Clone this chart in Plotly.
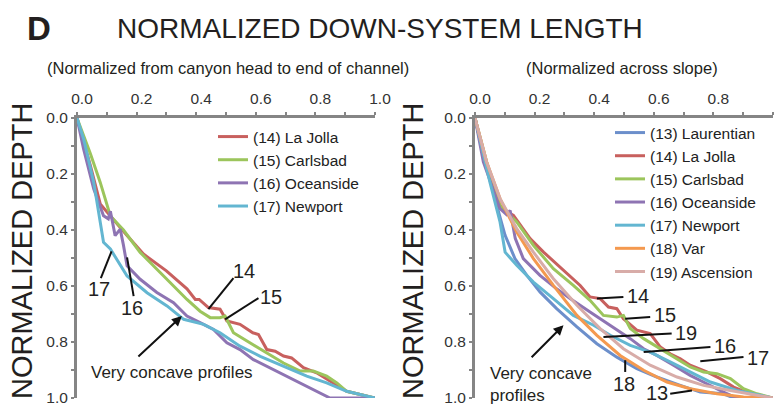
import plotly.graph_objects as go

# ---------------- data: left panel (normalized from canyon head to end of channel)
L_lajolla_x = [0, 0.045, 0.078, 0.112, 0.168, 0.223, 0.30, 0.369, 0.397, 0.41, 0.441, 0.48, 0.503, 0.547, 0.59, 0.609, 0.637, 0.665, 0.693, 0.72, 0.76, 0.804, 0.86, 0.905, 1.0]
L_lajolla_y = [0, 0.17, 0.307, 0.35, 0.42, 0.486, 0.546, 0.61, 0.648, 0.648, 0.677, 0.683, 0.725, 0.737, 0.767, 0.773, 0.827, 0.833, 0.85, 0.857, 0.892, 0.91, 0.946, 0.976, 1.0]

L_carlsbad_x = [0, 0.045, 0.078, 0.112, 0.156, 0.212, 0.279, 0.324, 0.369, 0.413, 0.447, 0.48, 0.497, 0.525, 0.581, 0.637, 0.693, 0.749, 0.793, 0.838, 0.872, 0.905, 1.0]
L_carlsbad_y = [0, 0.128, 0.23, 0.35, 0.40, 0.48, 0.552, 0.60, 0.648, 0.69, 0.713, 0.713, 0.707, 0.767, 0.803, 0.839, 0.875, 0.904, 0.904, 0.922, 0.946, 0.976, 1.0]

L_oceanside_x = [0, 0.022, 0.056, 0.089, 0.105, 0.112, 0.128, 0.145, 0.156, 0.168, 0.212, 0.268, 0.324, 0.369, 0.413, 0.458, 0.503, 0.547, 0.592, 0.637, 0.693, 0.749, 0.804, 0.849, 1.0]
L_oceanside_y = [0, 0.11, 0.253, 0.349, 0.36, 0.333, 0.42, 0.397, 0.455, 0.528, 0.576, 0.623, 0.66, 0.707, 0.731, 0.755, 0.803, 0.827, 0.863, 0.887, 0.916, 0.946, 0.976, 1.0, 1.0]

L_newport_x = [0, 0.022, 0.056, 0.089, 0.112, 0.168, 0.235, 0.302, 0.358, 0.425, 0.48, 0.547, 0.615, 0.693, 0.771, 0.838, 0.905, 1.0]
L_newport_y = [0, 0.074, 0.229, 0.444, 0.468, 0.564, 0.624, 0.671, 0.719, 0.737, 0.767, 0.815, 0.851, 0.887, 0.922, 0.946, 0.976, 1.0]

# ---------------- data: right panel (normalized across slope)
R_laurentian_x = [0, 0.039, 0.073, 0.101, 0.134, 0.174, 0.218, 0.274, 0.342, 0.409, 0.476, 0.543, 0.61, 0.689, 0.756, 0.834, 0.868, 1.0]
R_laurentian_y = [0, 0.169, 0.312, 0.419, 0.502, 0.562, 0.621, 0.681, 0.746, 0.806, 0.854, 0.895, 0.925, 0.955, 0.979, 0.985, 1.0, 1.0]

R_lajolla_x = [0, 0.028, 0.062, 0.073, 0.129, 0.185, 0.23, 0.297, 0.353, 0.386, 0.42, 0.448, 0.476, 0.498, 0.543, 0.588, 0.622, 0.655, 0.689, 0.722, 0.778, 0.823, 0.868, 0.924, 1.0]
R_lajolla_y = [0, 0.133, 0.252, 0.312, 0.348, 0.431, 0.479, 0.544, 0.598, 0.639, 0.645, 0.675, 0.681, 0.717, 0.758, 0.77, 0.818, 0.842, 0.86, 0.883, 0.907, 0.931, 0.961, 0.985, 1.0]

R_carlsbad_x = [0, 0.039, 0.084, 0.14, 0.196, 0.263, 0.33, 0.386, 0.431, 0.476, 0.498, 0.521, 0.566, 0.622, 0.678, 0.722, 0.767, 0.812, 0.857, 0.901, 0.946, 1.0]
R_carlsbad_y = [0, 0.157, 0.312, 0.371, 0.455, 0.538, 0.598, 0.651, 0.705, 0.711, 0.705, 0.752, 0.788, 0.824, 0.86, 0.889, 0.907, 0.913, 0.931, 0.967, 0.985, 1.0]

R_oceanside_x = [0, 0.028, 0.084, 0.106, 0.118, 0.135, 0.162, 0.218, 0.274, 0.319, 0.386, 0.454, 0.521, 0.566, 0.61, 0.666, 0.722, 0.778, 0.834, 0.879, 1.0]
R_oceanside_y = [0, 0.157, 0.324, 0.345, 0.33, 0.43, 0.502, 0.562, 0.61, 0.645, 0.693, 0.74, 0.788, 0.824, 0.848, 0.883, 0.919, 0.949, 0.979, 1.0, 1.0]

R_newport_x = [0, 0.05, 0.084, 0.101, 0.14, 0.196, 0.263, 0.33, 0.398, 0.454, 0.521, 0.588, 0.655, 0.722, 0.79, 0.879, 1.0]
R_newport_y = [0, 0.229, 0.371, 0.479, 0.526, 0.586, 0.645, 0.705, 0.74, 0.776, 0.812, 0.836, 0.871, 0.907, 0.943, 0.973, 1.0]

R_var_x = [0, 0.039, 0.084, 0.14, 0.196, 0.263, 0.342, 0.409, 0.487, 0.566, 0.644, 0.722, 0.812, 0.901, 1.0]
R_var_y = [0, 0.157, 0.288, 0.407, 0.502, 0.598, 0.705, 0.776, 0.848, 0.901, 0.943, 0.967, 0.985, 0.996, 1.0]

R_ascension_x = [0, 0.039, 0.084, 0.14, 0.196, 0.263, 0.342, 0.42, 0.498, 0.588, 0.678, 0.767, 0.857, 0.946, 1.0]
R_ascension_y = [0, 0.157, 0.288, 0.395, 0.479, 0.574, 0.669, 0.752, 0.824, 0.883, 0.925, 0.955, 0.973, 0.99, 1.0]

tick_vals = [0, 0.2, 0.4, 0.6, 0.8, 1.0]
tick_text = ["0.0", "0.2", "0.4", "0.6", "0.8", "1.0"]

# ---------------- styling
C = {
    "Laurentian": "#6c8fcb",
    "La Jolla": "#c8605e",
    "Carlsbad": "#9cc55c",
    "Oceanside": "#8e74b3",
    "Newport": "#63b6d1",
    "Var": "#f4994f",
    "Ascension": "#d8aca8",
}
FONT = "Liberation Sans, Arial, Helvetica, sans-serif"
AXIS_GRAY = "#858585"
W, H = 774, 418

fig = go.Figure()

left_series = [
    ("(14) La Jolla", "La Jolla", L_lajolla_x, L_lajolla_y),
    ("(15) Carlsbad", "Carlsbad", L_carlsbad_x, L_carlsbad_y),
    ("(16) Oceanside", "Oceanside", L_oceanside_x, L_oceanside_y),
    ("(17) Newport", "Newport", L_newport_x, L_newport_y),
]
right_series = [
    ("(13) Laurentian", "Laurentian", R_laurentian_x, R_laurentian_y),
    ("(14) La Jolla", "La Jolla", R_lajolla_x, R_lajolla_y),
    ("(15) Carlsbad", "Carlsbad", R_carlsbad_x, R_carlsbad_y),
    ("(16) Oceanside", "Oceanside", R_oceanside_x, R_oceanside_y),
    ("(17) Newport", "Newport", R_newport_x, R_newport_y),
    ("(18) Var", "Var", R_var_x, R_var_y),
    ("(19) Ascension", "Ascension", R_ascension_x, R_ascension_y),
]

for name, key, xs, ys in left_series:
    fig.add_trace(go.Scatter(x=xs, y=ys, mode="lines", name=name,
                             line=dict(color=C[key], width=3),
                             xaxis="x", yaxis="y", legend="legend"))
for name, key, xs, ys in right_series:
    fig.add_trace(go.Scatter(x=xs, y=ys, mode="lines", name=name,
                             line=dict(color=C[key], width=3),
                             xaxis="x2", yaxis="y2", legend="legend2"))


def px_x(p):
    return p / W


def px_y(p):
    return 1 - p / H


def xaxis_style(domain, anchor):
    return dict(domain=domain, anchor=anchor, side="top", range=[0, 1],
                tickvals=tick_vals, ticktext=tick_text,
                ticks="outside", ticklen=3, tickwidth=2, tickcolor=AXIS_GRAY,
                minor=dict(ticks="outside", dtick=0.1, ticklen=3, tickcolor=AXIS_GRAY, tickwidth=2),
                ticklabelshift=5, ticklabelstandoff=2,
                showline=True, linecolor=AXIS_GRAY, linewidth=3, automargin=False,
                showgrid=False, zeroline=False, fixedrange=True,
                tickfont=dict(family=FONT, size=15.5, color="#333333"))


def yaxis_style(domain, anchor):
    return dict(domain=domain, anchor=anchor, range=[1, 0],
                tickvals=tick_vals, ticktext=tick_text,
                ticks="outside", ticklen=3, tickwidth=2, tickcolor=AXIS_GRAY,
                minor=dict(ticks="outside", dtick=0.1, ticklen=3, tickcolor=AXIS_GRAY, tickwidth=2),
                showline=True, linecolor=AXIS_GRAY, linewidth=3, automargin=False,
                showgrid=False, zeroline=False, fixedrange=True,
                tickfont=dict(family=FONT, size=15.5, color="#333333"))


ydom = [px_y(398), px_y(118)]
legend_font = dict(family=FONT, size=15.5, color="#222222")
fig.update_layout(
    width=W, height=H,
    margin=dict(l=0, r=0, t=0, b=0, pad=0, autoexpand=False),
    paper_bgcolor="white", plot_bgcolor="white",
    xaxis=xaxis_style([px_x(77), px_x(375)], "y"),
    yaxis=yaxis_style(ydom, "x"),
    xaxis2=xaxis_style([px_x(475), px_x(773)], "y2"),
    yaxis2=yaxis_style(ydom, "x2"),
    legend=dict(x=px_x(213), y=px_y(120), xanchor="left", yanchor="top",
                bgcolor="rgba(0,0,0,0)", borderwidth=0, tracegroupgap=0,
                font=legend_font),
    legend2=dict(x=px_x(610), y=px_y(116), xanchor="left", yanchor="top",
                 bgcolor="rgba(0,0,0,0)", borderwidth=0, tracegroupgap=0,
                 font=legend_font),
)

ann = []
# headings
ann.append(dict(text="<b>D</b>", x=px_x(25), y=px_y(28), xref="paper", yref="paper",
                xanchor="left", yanchor="middle", showarrow=False,
                font=dict(family=FONT, size=33, color="#231f20")))
ann.append(dict(text="NORMALIZED DOWN-SYSTEM LENGTH", x=px_x(115), y=px_y(28), xref="paper", yref="paper",
                xanchor="left", yanchor="middle", showarrow=False,
                font=dict(family=FONT, size=28, color="#231f20")))
ann.append(dict(text="(Normalized from canyon head to end of channel)", x=px_x(228), y=px_y(68),
                xref="paper", yref="paper", xanchor="center", yanchor="middle", showarrow=False,
                font=dict(family=FONT, size=16.5, color="#231f20")))
ann.append(dict(text="(Normalized across slope)", x=px_x(622), y=px_y(68),
                xref="paper", yref="paper", xanchor="center", yanchor="middle", showarrow=False,
                font=dict(family=FONT, size=16.5, color="#231f20")))
for xc in (22, 413):
    ann.append(dict(text="NORMALIZED DEPTH", x=px_x(xc), y=px_y(251), xref="paper", yref="paper",
                    xanchor="center", yanchor="middle", textangle=-90, showarrow=False,
                    font=dict(family=FONT, size=29, color="#231f20")))

# curve labels: (text, text x, text y, line start, line end, axis suffix)
callouts = [
    ("17", 0.073, 0.61, (0.080, 0.572), (0.116, 0.476), ""),
    ("16", 0.184, 0.678, (0.19, 0.636), (0.168, 0.498), ""),
    ("14", 0.562, 0.548, (0.525, 0.572), (0.441, 0.683), ""),
    ("15", 0.652, 0.638, (0.609, 0.643), (0.497, 0.719), ""),
    ("14", 0.548, 0.635, (0.498, 0.639), (0.409, 0.645), "2"),
    ("15", 0.636, 0.703, (0.588, 0.711), (0.504, 0.717), "2"),
    ("19", 0.708, 0.768, (0.66, 0.770), (0.431, 0.782), "2"),
    ("16", 0.838, 0.815, (0.79, 0.818), (0.566, 0.836), "2"),
    ("17", 0.95, 0.858, (0.901, 0.854), (0.756, 0.869), "2"),
    ("18", 0.50, 0.95, (0.504, 0.907), (0.504, 0.865), "2"),
    ("13", 0.612, 0.982, (0.655, 0.985), (0.728, 0.973), "2"),
]
shapes = []
for txt, tx, ty, p0, p1, s in callouts:
    ann.append(dict(text=txt, x=tx, y=ty, xref="x" + s, yref="y" + s, showarrow=False,
                    xanchor="center", yanchor="middle",
                    font=dict(family=FONT, size=20, color="#231f20")))
    shapes.append(dict(type="line", xref="x" + s, yref="y" + s,
                       x0=p0[0], y0=p0[1], x1=p1[0], y1=p1[1],
                       line=dict(color="#111111", width=2)))

# "Very concave profiles" arrows
ann.append(dict(text="", x=0.352, y=0.707, ax=0.201, ay=0.857, xref="x", yref="y",
                axref="x", ayref="y", showarrow=True, arrowhead=2, arrowsize=1,
                arrowwidth=2, arrowcolor="#111111"))
ann.append(dict(text="Very concave profiles", x=0.318, y=0.91, xref="x", yref="y",
                showarrow=False, xanchor="center", yanchor="middle",
                font=dict(family=FONT, size=17, color="#231f20")))
ann.append(dict(text="", x=0.297, y=0.74, ax=0.185, ay=0.86, xref="x2", yref="y2",
                axref="x2", ayref="y2", showarrow=True, arrowhead=2, arrowsize=1,
                arrowwidth=2, arrowcolor="#111111"))
ann.append(dict(text="Very concave<br>profiles", x=0.045, y=0.95, xref="x2", yref="y2",
                showarrow=False, xanchor="left", yanchor="middle", align="left",
                font=dict(family=FONT, size=17, color="#231f20")))

fig.update_layout(annotations=ann, shapes=shapes)
fig.write_html("out.html")
